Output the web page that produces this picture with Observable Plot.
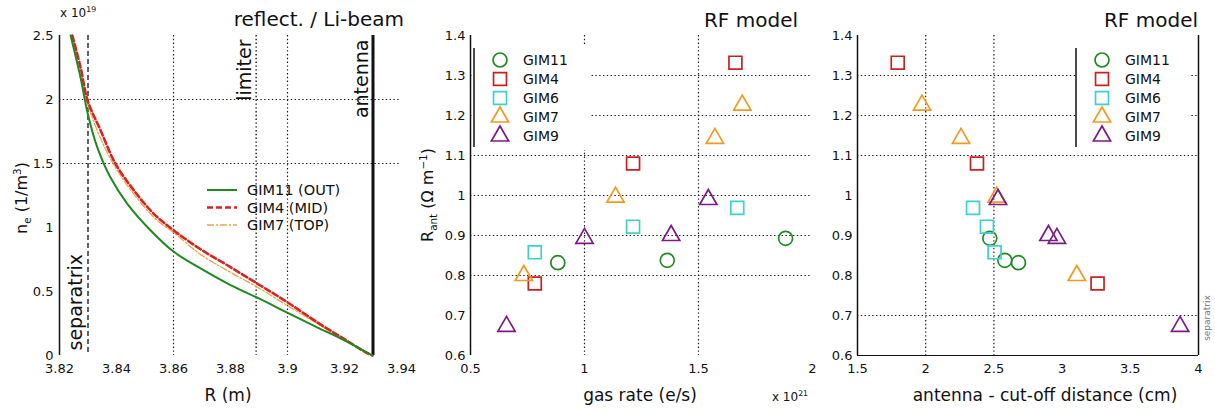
<!DOCTYPE html>
<html><head><meta charset="utf-8">
<script src="https://cdn.jsdelivr.net/npm/d3@7"></script>
<script src="https://cdn.jsdelivr.net/npm/@observablehq/plot@0.6"></script>
<style>
body{margin:0;background:#fff;}
#wrap{position:relative;width:1215px;height:408px;overflow:hidden;font-family:"DejaVu Sans","Liberation Sans",Arial,sans-serif;color:#111;background:#fff;}
.panel{position:absolute;top:0;}
.lbl{position:absolute;white-space:nowrap;line-height:1;}
.lbl sub,.lbl sup{font-size:65%;}
</style></head><body><div id="wrap"></div>
<script>
// ---------- Panel 1: density profiles ----------
const R_GIM11 = [3.8239, 3.8274, 3.8299, 3.8332, 3.8379, 3.8438, 3.852, 3.8601, 3.8695, 3.88, 3.8905, 3.8999, 3.9104, 3.9198, 3.9298];
const ne_GIM11 = [2.5, 2.17, 1.89, 1.63, 1.39, 1.185, 0.977, 0.81, 0.68, 0.55, 0.44, 0.335, 0.22, 0.12, 0];
const R_GIM4 = [3.8245, 3.8274, 3.8299, 3.8344, 3.8396, 3.8461, 3.8531, 3.8601, 3.8695, 3.88, 3.8905, 3.8999, 3.9104, 3.9198, 3.928, 3.9298];
const ne_GIM4 = [2.5, 2.25, 1.99, 1.76, 1.5, 1.29, 1.107, 0.977, 0.83, 0.69, 0.547, 0.417, 0.26, 0.13, 0.018, 0];
const R_GIM7 = [3.8245, 3.8299, 3.8396, 3.8531, 3.8601, 3.8695, 3.88, 3.8905, 3.8999, 3.9104, 3.9198, 3.9298];
const ne_GIM7 = [2.5, 1.96, 1.47, 1.08, 0.96, 0.79, 0.65, 0.52, 0.39, 0.25, 0.12, 0];
const profileNames = ["GIM11 (OUT)", "GIM4 (MID)", "GIM7 (TOP)"];
const vlineNames = ["separatrix", "limiter", "antenna"];
const vlineR = [3.83, 3.889, 3.93];
const p1xTicks = [3.82, 3.84, 3.86, 3.88, 3.9, 3.92, 3.94];
const p1yTicks = [0, 0.5, 1, 1.5, 2, 2.5];
const p1gridX = [3.86, 3.9];
const p1gridY = [1.5, 2];

// ---------- Panels 2 & 3: RF model ----------
const seriesNames = ["GIM11", "GIM4", "GIM6", "GIM7", "GIM9"];
const gas_GIM11 = [0.883, 1.363, 1.882];
const dist_GIM11 = [2.68, 2.58, 2.47];
const Rant_GIM11 = [0.832, 0.838, 0.893];
const gas_GIM4 = [1.662, 1.213, 0.782];
const dist_GIM4 = [1.795, 2.376, 3.26];
const Rant_GIM4 = [1.332, 1.08, 0.78];
const gas_GIM6 = [0.782, 1.213, 1.67];
const dist_GIM6 = [2.505, 2.449, 2.347];
const Rant_GIM6 = [0.858, 0.922, 0.969];
const gas_GIM7 = [0.734, 1.136, 1.572, 1.692];
const dist_GIM7 = [3.108, 2.52, 2.259, 1.973];
const Rant_GIM7 = [0.80, 0.996, 1.143, 1.226];
const gas_GIM9 = [0.658, 1.0, 1.38, 1.543];
const dist_GIM9 = [3.865, 2.962, 2.9, 2.53];
const Rant_GIM9 = [0.673, 0.893, 0.9, 0.99];
const p2xTicks = [0.5, 1, 1.5, 2];
const p3xTicks = [1.5, 2, 2.5, 3, 3.5, 4];
const rantTicks = [0.6, 0.7, 0.8, 0.9, 1, 1.1, 1.2, 1.3, 1.4];
const p2gridX = [1, 1.5];
const p2gridY = [0.8, 0.9, 1, 1.1, 1.2, 1.3];
const p3gridX = [2, 2.5];
const p3gridY = [0.7, 1.1, 1.2, 1.3];

// ---------- styling ----------
const FONT = '"DejaVu Sans","Liberation Sans",Arial,sans-serif';
const GRID = {stroke: "#1a1a1a", strokeDasharray: "1.4,2.4", strokeWidth: 1.2};
const profileStyle = [
  {stroke: "#1e8a1e", sw: 2.0, dash: null},
  {stroke: "#d42424", sw: 2.6, dash: "6,3"},
  {stroke: "#f2a24a", sw: 1.3, dash: "7,2,2,2"}
];
const seriesStyle = [
  {color: "#238a23", sym: d3.symbolCircle, r: 7},
  {color: "#cc2020", sym: d3.symbolSquare, r: 7.3},
  {color: "#3cd0d0", sym: d3.symbolSquare, r: 7.3},
  {color: "#f39a1e", sym: d3.symbolTriangle, r: 6.4},
  {color: "#7d1a85", sym: d3.symbolTriangle, r: 6.4}
];
const fmt = d => String(+d.toFixed(2));
const baseStyle = {fontSize: "13px", fontFamily: FONT, color: "#111", background: "transparent", overflow: "visible"};

const wrap = document.getElementById("wrap");
function place(el, left) { el.classList.add("panel"); el.style.left = left + "px"; wrap.appendChild(el); return el; }
function label(html, x, y, size, opts = {}) {
  const d = document.createElement("div");
  d.className = "lbl";
  d.innerHTML = html;
  d.style.fontSize = size + "px";
  d.style.left = x + "px"; d.style.top = y + "px";
  const ax = opts.anchor === "end" ? "-100%" : opts.anchor === "start" ? "0" : "-50%";
  d.style.transform = opts.rotate ? `translate(-50%,-50%) rotate(${opts.rotate}deg)` : `translate(${ax},-50%)`;
  if (opts.color) d.style.color = opts.color;
  wrap.appendChild(d);
  return d;
}

// ---------- Panel 1 ----------
const profiles = [
  {R: R_GIM11, n: ne_GIM11}, {R: R_GIM4, n: ne_GIM4}, {R: R_GIM7, n: ne_GIM7}
].map((p, k) => p.R.map((r, i) => ({R: r, n: p.n[i], k})));
const vlines = vlineNames.map((name, i) => ({name, R: vlineR[i]}));

const p1 = Plot.plot({
  width: 405, height: 408, marginLeft: 59, marginRight: 4, marginTop: 35, marginBottom: 53,
  style: baseStyle,
  x: {domain: [3.82, 3.94], ticks: p1xTicks, tickFormat: fmt, tickSize: 0, tickPadding: 8, label: null},
  y: {domain: [0, 2.5], ticks: p1yTicks, tickFormat: fmt, tickSize: 0, tickPadding: 6, label: null},
  marks: [
    Plot.ruleY(p1gridY, GRID),
    Plot.ruleX(p1gridX, GRID),
    Plot.ruleX([vlines[0]], {x: "R", stroke: "#111", strokeDasharray: "5,3", strokeWidth: 1.3}),
    Plot.ruleX([vlines[1]], {x: "R", ...GRID, strokeWidth: 1.4}),
    Plot.ruleX([vlines[2]], {x: "R", stroke: "#111", strokeWidth: 3}),
    ...[2, 1, 0].map(k => Plot.line(profiles[k], {x: "R", y: "n", stroke: profileStyle[k].stroke,
      strokeWidth: profileStyle[k].sw, strokeDasharray: profileStyle[k].dash, curve: "catmull-rom"})),
    Plot.ruleX([3.82], {stroke: "#111", strokeWidth: 1.5}),
    Plot.text([vlines[0]], {x: "R", y: () => 0, text: "name", rotate: -90, textAnchor: "start", dx: -12, dy: -5, fontSize: 19, fill: "#111"}),
    Plot.text(vlines.slice(1), {x: "R", y: () => 2.5, text: "name", rotate: -90, textAnchor: "end", dx: -11, dy: 4, fontSize: 19, fill: "#111"})
  ]
});
place(p1, 0);
{
  const g = d3.select(p1).append("g").attr("text-anchor", "start");
  profileNames.forEach((name, k) => {
    const y = 190 + k * 17.5;
    g.append("line").attr("x1", 207).attr("x2", 237).attr("y1", y).attr("y2", y)
      .attr("stroke", profileStyle[k].stroke).attr("stroke-width", profileStyle[k].sw)
      .attr("stroke-dasharray", profileStyle[k].dash);
    g.append("text").attr("x", 247).attr("y", y).attr("dy", "0.36em").attr("text-anchor", "start")
      .attr("font-size", 14.5).attr("fill", "#111").text(name);
  });
}
label("reflect. / Li-beam", 404, 19, 20, {anchor: "end"});
label("x 10<sup>19</sup>", 60, 12, 12, {anchor: "start"});
label("n<sub>e</sub> (1/m<sup>3</sup>)", 22, 198, 16, {rotate: -90});
label("R (m)", 228, 395, 17);

// ---------- Panels 2 and 3 ----------
const rf = seriesNames.map((name, k) => {
  const gas = [gas_GIM11, gas_GIM4, gas_GIM6, gas_GIM7, gas_GIM9][k];
  const dist = [dist_GIM11, dist_GIM4, dist_GIM6, dist_GIM7, dist_GIM9][k];
  const rant = [Rant_GIM11, Rant_GIM4, Rant_GIM6, Rant_GIM7, Rant_GIM9][k];
  return gas.map((g, i) => ({name, gas: g, dist: dist[i], rant: rant[i]}));
});

function dots(xField) {
  return rf.map((data, k) => Plot.dot(data, {x: xField, y: "rant", symbol: seriesStyle[k].sym, r: seriesStyle[k].r,
    stroke: seriesStyle[k].color, strokeWidth: 1.7, fill: "none"}));
}
function legend(svg, boxX, boxW) {
  const g = d3.select(svg).append("g").attr("text-anchor", "start");
  g.append("rect").attr("x", boxX).attr("y", 45).attr("width", boxW).attr("height", 105).attr("fill", "#fff");
  g.append("line").attr("x1", boxX).attr("x2", boxX).attr("y1", 48).attr("y2", 147).attr("stroke", "#111").attr("stroke-width", 1.5);
  seriesNames.forEach((name, k) => {
    const y = 60 + k * 19;
    const s = seriesStyle[k];
    g.append("path").attr("transform", `translate(${boxX + 26},${y})`)
      .attr("d", d3.symbol(s.sym, Math.PI * s.r * s.r)())
      .attr("fill", "none").attr("stroke", s.color).attr("stroke-width", 1.7);
    g.append("text").attr("x", boxX + 49).attr("y", y).attr("dy", "0.36em").attr("text-anchor", "start")
      .attr("font-size", 14).attr("fill", "#111").text(name);
  });
}

const p2 = Plot.plot({
  width: 410, height: 408, marginLeft: 65, marginRight: 3, marginTop: 35, marginBottom: 53,
  style: baseStyle,
  x: {domain: [0.5, 2], ticks: p2xTicks, tickFormat: fmt, tickSize: 0, tickPadding: 8, label: null},
  y: {domain: [0.6, 1.4], ticks: rantTicks, tickFormat: fmt, tickSize: 0, tickPadding: 5, label: null},
  marks: [
    Plot.ruleY(p2gridY, GRID),
    Plot.ruleX(p2gridX, GRID),
    ...dots("gas"),
    Plot.ruleX([0.5], {stroke: "#111", strokeWidth: 1.5})
  ]
});
place(p2, 405);
legend(p2, 69, 116);
label("RF model", 798, 20, 20, {anchor: "end"});
label("R<sub>ant</sub> (Ω m<sup>−1</sup>)", 428, 195, 16, {rotate: -90});
label("gas rate (e/s)", 640, 395, 17);
label("x 10<sup>21</sup>", 790, 396, 12);

const p3 = Plot.plot({
  width: 400, height: 408, marginLeft: 42, marginRight: 17, marginTop: 35, marginBottom: 53,
  style: baseStyle,
  x: {domain: [1.5, 4], ticks: p3xTicks, tickFormat: fmt, tickSize: 0, tickPadding: 8, label: null},
  y: {domain: [0.6, 1.4], ticks: rantTicks, tickFormat: fmt, tickSize: 0, tickPadding: 5, label: null},
  marks: [
    Plot.ruleY(p3gridY, GRID),
    Plot.ruleX(p3gridX, GRID),
    ...dots("dist"),
    Plot.ruleX([1.5, 4], {stroke: "#111", strokeWidth: 1.5}),
    Plot.ruleY([0.6], {stroke: "#111", strokeWidth: 1.2})
  ]
});
place(p3, 815);
legend(p3, 261, 114);
label("RF model", 1198, 20, 20, {anchor: "end"});
label("antenna - cut-off distance (cm)", 1045, 395, 17);
label("separatrix", 1207, 318, 9, {rotate: -90, color: "#777"});
</script></body></html>
